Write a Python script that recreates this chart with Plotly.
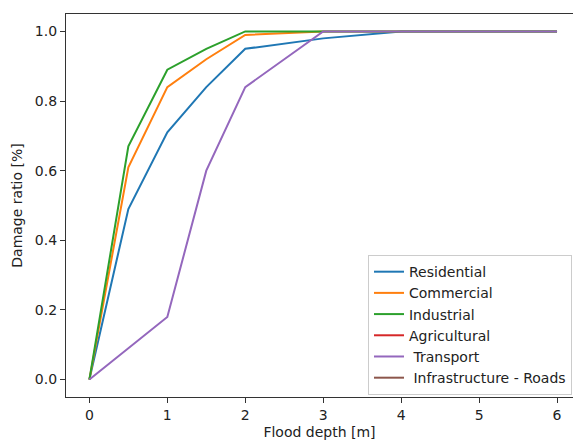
import plotly.graph_objects as go

depth = [0, 0.5, 1, 1.5, 2, 3, 4, 5, 6]
residential = [0, 0.49, 0.71, 0.84, 0.95, 0.98, 1.0, 1.0, 1.0]
commercial = [0, 0.61, 0.84, 0.92, 0.99, 1.0, 1.0, 1.0, 1.0]
industrial = [0, 0.67, 0.89, 0.95, 1.0, 1.0, 1.0, 1.0, 1.0]
agricultural = [None] * 9
transport = [0, 0.09, 0.18, 0.60, 0.84, 1.0, 1.0, 1.0, 1.0]
roads = [None] * 9

names = ["Residential", "Commercial", "Industrial", "Agricultural",
         "\u00a0Transport", "\u00a0Infrastructure - Roads"]
series = [residential, commercial, industrial, agricultural, transport, roads]
colors = ["#1f77b4", "#ff7f0e", "#2ca02c", "#d62728", "#9467bd", "#8c564b"]

fig = go.Figure()
for n, s, c in zip(names, series, colors):
    fig.add_trace(go.Scatter(x=depth, y=s, name=n, mode="lines",
                             line=dict(color=c, width=2), showlegend=True))

font = dict(family="DejaVu Sans", size=14, color="#222222")
fig.update_layout(
    width=573, height=440,
    margin=dict(l=66, r=0, t=14, b=43),
    plot_bgcolor="white", paper_bgcolor="white",
    font=font,
    legend=dict(x=0.998, y=0.005, xanchor="right", yanchor="bottom",
                bgcolor="white", bordercolor="#cccccc", borderwidth=1,
                font=font, tracegroupgap=0),
)
fig.update_xaxes(range=[-0.3, 6.205], tickvals=[0, 1, 2, 3, 4, 5, 6],
                 tickfont=font,
                 showgrid=False, zeroline=False, showline=True, linecolor="#333333",
                 linewidth=1.2, mirror=True, ticks="outside", ticklen=5, tickcolor="#333333",
                 title=dict(text="Flood depth [m]", standoff=6, font=font))
fig.update_yaxes(range=[-0.05, 1.05], tickvals=[0, 0.2, 0.4, 0.6, 0.8, 1.0],
                 tickformat=".1f", tickfont=font,
                 showgrid=False, zeroline=False, showline=True, linecolor="#333333",
                 linewidth=1.2, ticks="outside", ticklen=5, tickcolor="#333333",
                 title=dict(text="Damage ratio [%]", standoff=8, font=font))
fig.write_html("out.html")
